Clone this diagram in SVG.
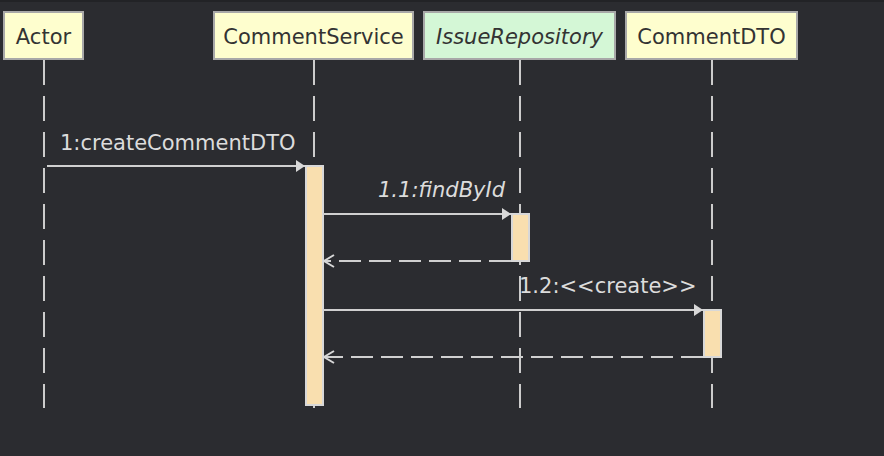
<svg xmlns="http://www.w3.org/2000/svg" width="884" height="456" viewBox="0 0 884 456">
<style>
.bg{fill:#2b2c30}
.box rect{stroke:#a8a8a8;stroke-width:2}
.yel{fill:#fefece}
.grn{fill:#d4f7d6}
.box text{font-family:"DejaVu Sans",sans-serif;font-size:21px;fill:#333;text-anchor:middle}
.life{stroke:#cccccc;stroke-width:2;stroke-dasharray:25 11}
.act{fill:#f9dfaf;stroke:#d8d8d8;stroke-width:2}
.msg{stroke:#d0d0d0;stroke-width:2;fill:none}
.ret{stroke:#d0d0d0;stroke-width:2;fill:none;stroke-dasharray:22 8}
.lbl{font-family:"DejaVu Sans",sans-serif;font-size:21px;fill:#dcdcdc}
</style>
<defs>
<marker id="filled" markerWidth="10" markerHeight="12" refX="9" refY="6" orient="auto" markerUnits="userSpaceOnUse">
<path d="M0,0 L9,6 L0,12 Z" fill="#d8d8d8"/>
</marker>
<marker id="open" markerWidth="14" markerHeight="14" refX="11" refY="7" orient="auto" markerUnits="userSpaceOnUse">
<path d="M1,1 L11,7 L1,13" fill="none" stroke="#d8d8d8" stroke-width="2"/>
</marker>
</defs>
<rect class="bg" x="0" y="0" width="884" height="456"/>
<rect x="0" y="0" width="884" height="2" fill="#222326"/>
<g id="lifelines">
<line class="life" x1="44" y1="60" x2="44" y2="408"/>
<line class="life" x1="314" y1="60" x2="314" y2="408"/>
<line class="life" x1="520" y1="60" x2="520" y2="408"/>
<line class="life" x1="712" y1="60" x2="712" y2="408"/>
</g>
<g id="Actor" class="box"><rect class="yel" x="4" y="12" width="79" height="47"/><text x="43.5" y="44">Actor</text></g>
<g id="CommentService" class="box"><rect class="yel" x="214" y="12" width="199" height="47"/><text x="313.5" y="44">CommentService</text></g>
<g id="IssueRepository" class="box"><rect class="grn" x="424" y="12" width="191" height="47"/><text x="519.5" y="44" font-style="italic">IssueRepository</text></g>
<g id="CommentDTO" class="box"><rect class="yel" x="626" y="12" width="171" height="47"/><text x="711.5" y="44">CommentDTO</text></g>
<g id="activations">
<rect class="act" x="306" y="166" width="17" height="239"/>
<rect class="act" x="512" y="214" width="17" height="47"/>
<rect class="act" x="704" y="310" width="17" height="47"/>
</g>
<g id="connectors">
<line class="msg" x1="47" y1="166" x2="305" y2="166" marker-end="url(#filled)"/>
<text class="lbl" x="60" y="150">1:createCommentDTO</text>
<line class="msg" x1="323" y1="214" x2="511" y2="214" marker-end="url(#filled)"/>
<text class="lbl" x="378" y="197" font-style="italic">1.1:findById</text>
<line class="ret" x1="511" y1="261" x2="324" y2="261" marker-end="url(#open)"/>
<line class="msg" x1="323" y1="310" x2="703" y2="310" marker-end="url(#filled)"/>
<text class="lbl" x="519" y="293">1.2:&lt;&lt;create&gt;&gt;</text>
<line class="ret" x1="703" y1="357" x2="324" y2="357" marker-end="url(#open)"/>
</g>
</svg>
